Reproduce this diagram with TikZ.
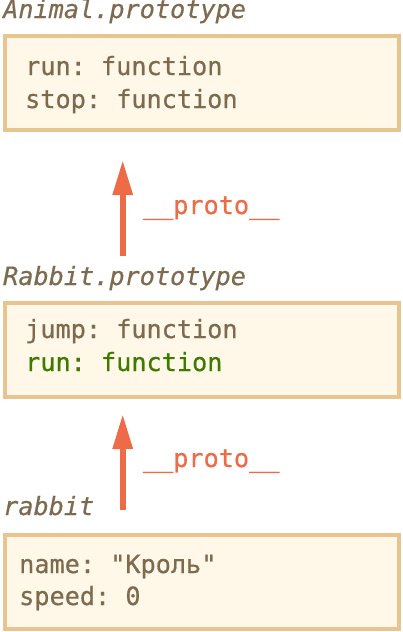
\documentclass[tikz,border=0pt]{standalone}
\usepackage{fontspec}
\newfontfamily\codefont[FakeBold=0.6]{DejaVu Sans Mono}
\usetikzlibrary{arrows.meta}

\definecolor{boxfill}{HTML}{FFF8E8}
\definecolor{boxline}{HTML}{E8C48E}
\definecolor{codebrown}{HTML}{7E6A4E}
\definecolor{codegreen}{HTML}{3D7A00}
\definecolor{protored}{HTML}{EE6B47}

\tikzset{
  objbox/.style={draw=boxline, fill=boxfill, line width=4pt, rectangle,
    minimum width=394pt, inner sep=0pt},
  code/.style={anchor=base west, inner sep=0pt, text=codebrown,
    font=\codefont\frenchspacing\fontsize{25.2}{30}\selectfont},
  title/.style={code, font=\codefont\frenchspacing\itshape\fontsize{25.2}{30}\selectfont},
  inherited/.style={code, text=codegreen},
  protolink/.style={draw=protored, line width=6pt,
    -{Triangle[width=19pt,length=35pt]}},
  protolabel/.style={code, text=protored}
}

\begin{document}
\begin{tikzpicture}[x=1pt,y=-1pt]
  \useasboundingbox (0,0) rectangle (402,632);

  % Animal.prototype
  \node[title] (animaltitle) at (3,18) {Animal.prototype};
  \node[objbox, minimum height=94pt] (animal) at (202,83) {};
  \node[code] (animalrun) at (25,75) {run: function};
  \node[code] (animalstop) at (25,108) {stop: function};

  % Rabbit.prototype
  \node[title] (rabbitprotitle) at (3,285) {Rabbit.prototype};
  \node[objbox, minimum height=94.5pt] (rabbitpro) at (202,349.75) {};
  \node[code] (rabbitjump) at (25,338) {jump: function};
  \node[inherited] (rabbitrun) at (25,371) {run: function};

  % rabbit
  \node[title] (rabbittitle) at (3,515) {rabbit};
  \node[objbox, minimum height=94pt] (rabbit) at (202,582) {};
  \node[code] (rabbitname) at (19,573) {name: "Кроль"};
  \node[code] (rabbitspeed) at (19,605) {speed: 0};

  % __proto__ links
  \coordinate (linkAfrom) at (122.7,256);
  \coordinate (linkAto) at (122.7,160);
  \draw[protolink] (linkAfrom) -- (linkAto);
  \node[protolabel] (linkAlabel) at (142.7,214) {\_\_proto\_\_};

  \coordinate (linkBfrom) at (122.7,510);
  \coordinate (linkBto) at (122.7,414);
  \draw[protolink] (linkBfrom) -- (linkBto);
  \node[protolabel] (linkBlabel) at (142.7,467) {\_\_proto\_\_};
\end{tikzpicture}
\end{document}
